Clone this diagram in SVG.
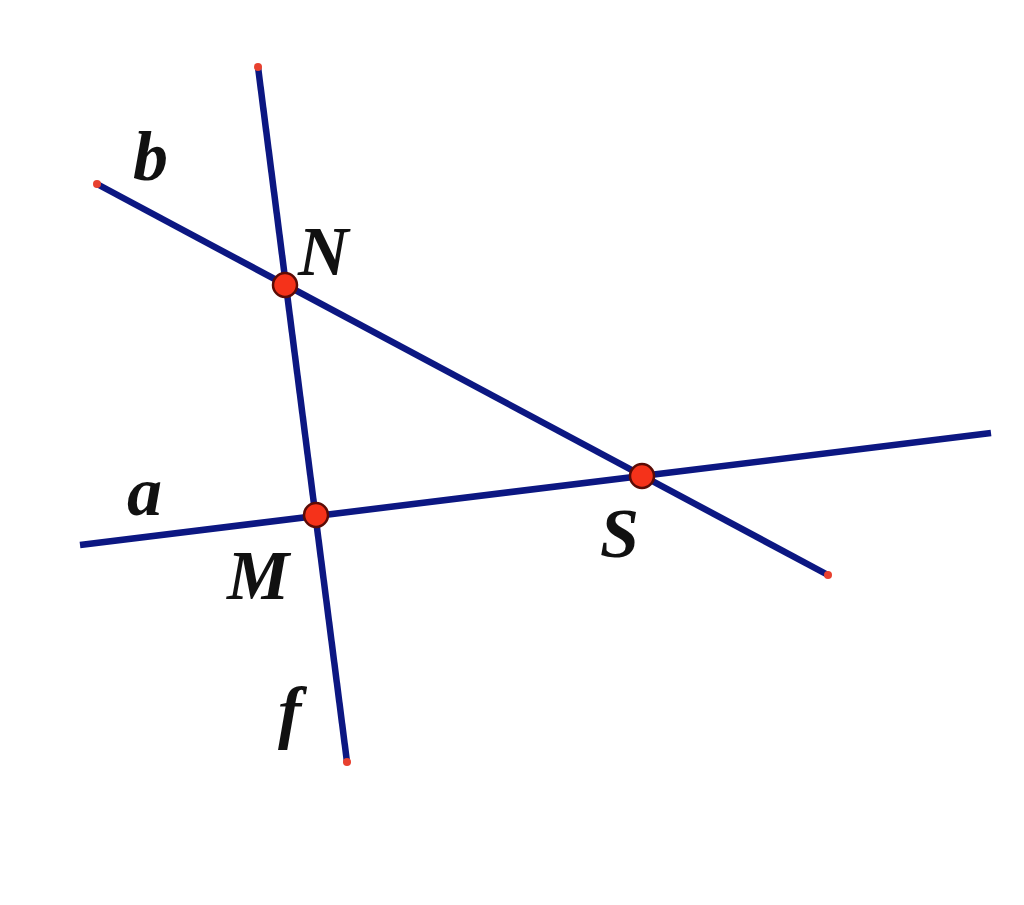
<svg xmlns="http://www.w3.org/2000/svg" width="1024" height="905" viewBox="0 0 1024 905">
<style>
.ln{stroke:#0c1782;stroke-width:6.5;fill:none;stroke-linecap:butt}
.end{fill:#e8412f}
.pt{fill:#f5321a;stroke:#5a0b05;stroke-width:2.5}
.lb{font-family:"Liberation Serif","Times New Roman",serif;font-style:italic;font-weight:bold;font-size:70px;fill:#111}
</style>
<rect width="1024" height="905" fill="#ffffff"/>
<g id="connectors">
<line id="line-f" class="ln" x1="258" y1="67" x2="347" y2="762"/>
<line id="line-b" class="ln" x1="97" y1="184" x2="828" y2="575"/>
<line id="line-a" class="ln" x1="80" y1="545" x2="991" y2="433"/>
</g>
<g id="endpoints">
<circle class="end" cx="258" cy="67" r="4"/>
<circle class="end" cx="97" cy="184" r="4"/>
<circle class="end" cx="828" cy="575" r="4"/>
<circle class="end" cx="347" cy="762" r="4"/>
</g>
<g id="node-N"><circle class="pt" cx="285" cy="285" r="12"/><text class="lb" x="298" y="275">N</text></g>
<g id="node-M"><circle class="pt" cx="316" cy="515" r="12"/><text class="lb" x="227" y="599">M</text></g>
<g id="node-S"><circle class="pt" cx="642" cy="476" r="12"/><text class="lb" x="600" y="557">S</text></g>
<g id="label-b"><text class="lb" x="133" y="180">b</text></g>
<g id="label-a"><text class="lb" x="127" y="515">a</text></g>
<g id="label-f"><text class="lb" x="278" y="735">f</text></g>
</svg>
